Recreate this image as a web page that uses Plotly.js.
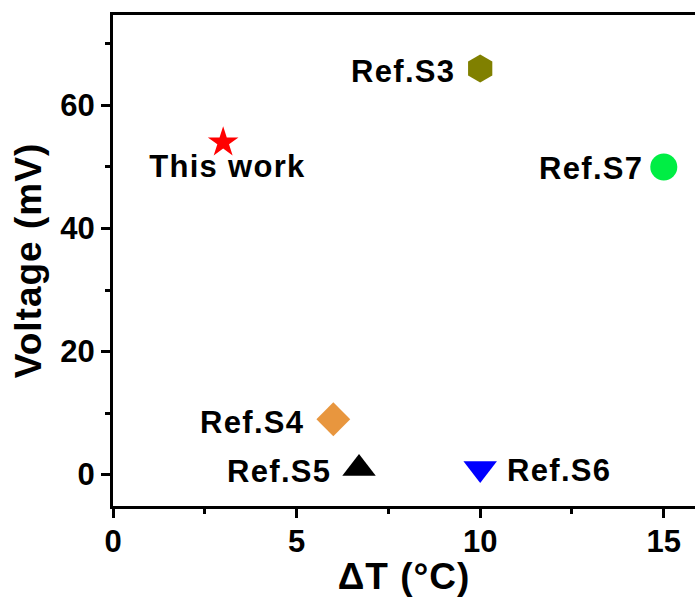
<!DOCTYPE html>
<html>
<head>
<meta charset="utf-8">
<script src="https://cdn.plot.ly/plotly-3.0.1.min.js"></script>
<style>
  html, body { margin: 0; padding: 0; background: #fff; }
  #chart { width: 695px; height: 597px; }
  /* slightly wider lettering for the point labels and the axis titles */
  #chart .annotation-text { letter-spacing: 1.3px; }
  #chart .xtitle, #chart .ytitle { letter-spacing: 1px; }
</style>
</head>
<body>
<div id="chart"></div>
<script>
// Output voltage versus temperature difference for this work and the references
const labels = ["This work", "Ref.S3", "Ref.S7", "Ref.S4", "Ref.S5", "Ref.S6"];
const deltaT = [3, 10, 15, 6, 6.7, 10];
const voltage = [54, 66, 50, 9, 1, 1];

// marker styling, one entry per point
const symbols = ["star", "hexagon", "circle", "diamond", "triangle-up", "triangle-down"];
const colors = ["#ff0000", "#808000", "#00ee44", "#e8963e", "#000000", "#0000ff"];
const sizes = [23, 28, 27, 26, 29, 29];

// label placement relative to each marker (pixels)
const labelAnchor = ["center", "right", "right", "right", "right", "left"];
const labelDx = [4, -27, -23, -30, -30, 29];
const labelDy = [-24, -3, -2, -3, -3, -2];

const font = { family: "Liberation Sans, Arial, sans-serif", color: "#000", weight: "bold" };

const trace = {
  type: "scatter",
  mode: "markers",
  x: deltaT,
  y: voltage,
  text: labels,
  marker: { symbol: symbols, color: colors, size: sizes, opacity: 1, line: { width: 0 } },
  cliponaxis: false,
  hoverinfo: "x+y+text"
};

const annotations = labels.map((t, i) => ({
  x: deltaT[i],
  y: voltage[i],
  xref: "x",
  yref: "y",
  text: t,
  showarrow: false,
  xanchor: labelAnchor[i],
  yanchor: "middle",
  xshift: labelDx[i],
  yshift: labelDy[i],
  font: Object.assign({}, font, { size: 31 })
}));

const axisCommon = {
  showline: true,
  linecolor: "#000",
  linewidth: 3,
  ticks: "outside",
  ticklen: 9,
  tickwidth: 3,
  tickcolor: "#000",
  showgrid: false,
  zeroline: false,
  tickfont: Object.assign({}, font, { size: 31 }),
  minor: { ticks: "outside", ticklen: 5, tickwidth: 3, tickcolor: "#000", showgrid: false }
};

const layout = {
  width: 695,
  height: 597,
  margin: { l: 113, r: 0, t: 15, b: 91 },
  paper_bgcolor: "#fff",
  plot_bgcolor: "#fff",
  showlegend: false,
  annotations: annotations,
  xaxis: Object.assign({}, axisCommon, {
    range: [0, 15.85],
    tickvals: [0, 5, 10, 15],
    ticklabelstandoff: -3,
    minor: Object.assign({}, axisCommon.minor, { tickvals: [2.5, 7.5, 12.5] }),
    mirror: true,
    title: { text: "ΔT (°C)", font: Object.assign({}, font, { size: 37 }), standoff: 0 }
  }),
  yaxis: Object.assign({}, axisCommon, {
    range: [-5.1, 74.7],
    tickvals: [0, 20, 40, 60],
    minor: Object.assign({}, axisCommon.minor, { tickvals: [10, 30, 50, 70] }),
    title: { text: "Voltage (mV)", font: Object.assign({}, font, { size: 37 }), standoff: 8 }
  })
};

Plotly.newPlot("chart", [trace], layout, { displayModeBar: false, staticPlot: true });
</script>
</body>
</html>
